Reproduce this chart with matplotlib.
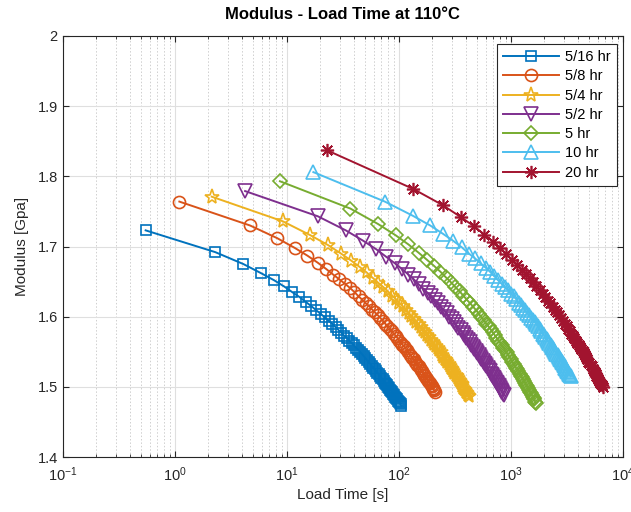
import numpy as np
import matplotlib.pyplot as plt
from matplotlib.ticker import LogLocator, NullFormatter, FixedLocator, FixedFormatter

plt.rcParams['font.family'] = ['Liberation Sans', 'DejaVu Sans']
plt.rcParams['mathtext.default'] = 'regular'

labels = ['5/16 hr', '5/8 hr', '5/4 hr', '5/2 hr', '5 hr', '10 hr', '20 hr']

# load time [s] and modulus [GPa] per aging time
t_516 = [0.55, 2.3, 4.1, 5.9, 7.7, 9.5, 11.2, 13.0, 14.8, 16.6,
         18.4, 20.1, 21.9, 23.7, 25.5, 27.3, 29.0, 30.8, 32.6, 34.4,
         36.2, 37.9, 39.7, 41.5, 43.3, 45.1, 46.8, 48.6, 50.4, 52.2,
         54.0, 55.7, 57.5, 59.3, 61.1, 62.9, 64.6, 66.4, 68.2, 70.0,
         71.8, 73.5, 75.3, 77.1, 78.9, 80.7, 82.4, 84.2, 86.0, 87.8,
         89.6, 91.3, 93.1, 94.9, 96.7, 98.5, 100.2, 102.0, 103.8, 105.6]
E_516 = [1.723, 1.692, 1.675, 1.662, 1.652, 1.643, 1.635, 1.628, 1.621, 1.615,
         1.609, 1.604, 1.599, 1.594, 1.590, 1.585, 1.581, 1.577, 1.573, 1.570,
         1.566, 1.563, 1.559, 1.556, 1.553, 1.550, 1.547, 1.544, 1.541, 1.538,
         1.535, 1.533, 1.530, 1.527, 1.525, 1.522, 1.520, 1.518, 1.515, 1.513,
         1.511, 1.508, 1.506, 1.504, 1.502, 1.500, 1.498, 1.496, 1.494, 1.492,
         1.490, 1.488, 1.486, 1.484, 1.482, 1.480, 1.478, 1.477, 1.475, 1.473]

t_58 = [1.1, 4.7, 8.2, 11.8, 15.3, 18.9, 22.5, 26.0, 29.6, 33.1,
        36.7, 40.3, 43.8, 47.4, 50.9, 54.5, 58.1, 61.6, 65.2, 68.7,
        72.3, 75.9, 79.4, 83.0, 86.5, 90.1, 93.7, 97.2, 100.8, 104.3,
        107.9, 111.5, 115.0, 118.6, 122.1, 125.7, 129.3, 132.8, 136.4, 139.9,
        143.5, 147.1, 150.6, 154.2, 157.7, 161.3, 164.9, 168.4, 172.0, 175.5,
        179.1, 182.7, 186.2, 189.8, 193.3, 196.9, 200.5, 204.0, 207.6, 211.1]
E_58 = [1.764, 1.730, 1.712, 1.698, 1.687, 1.677, 1.668, 1.660, 1.653, 1.647,
        1.641, 1.635, 1.629, 1.624, 1.619, 1.615, 1.610, 1.606, 1.602, 1.598,
        1.594, 1.590, 1.586, 1.583, 1.579, 1.576, 1.573, 1.570, 1.566, 1.563,
        1.560, 1.558, 1.555, 1.552, 1.549, 1.546, 1.544, 1.541, 1.539, 1.536,
        1.534, 1.531, 1.529, 1.527, 1.524, 1.522, 1.520, 1.517, 1.515, 1.513,
        1.511, 1.509, 1.507, 1.505, 1.503, 1.501, 1.499, 1.497, 1.495, 1.493]

t_54 = [2.14, 9.2, 16.3, 23.4, 30.5, 37.6, 44.7, 51.8, 58.9, 66.0,
        73.1, 80.2, 87.3, 94.4, 101.5, 108.6, 115.7, 122.8, 129.9, 137.0,
        144.1, 151.2, 158.3, 165.4, 172.5, 179.6, 186.7, 193.8, 200.9, 208.0,
        215.1, 222.2, 229.3, 236.4, 243.5, 250.6, 257.7, 264.8, 271.9, 279.0,
        286.1, 293.2, 300.3, 307.4, 314.5, 321.6, 328.7, 335.8, 342.9, 350.0,
        357.1, 364.2, 371.3, 378.4, 385.5, 392.6, 399.7, 406.8, 413.9, 421.0]
E_54 = [1.771, 1.736, 1.716, 1.702, 1.690, 1.680, 1.671, 1.663, 1.655, 1.648,
        1.642, 1.636, 1.630, 1.625, 1.619, 1.615, 1.610, 1.605, 1.601, 1.597,
        1.593, 1.589, 1.585, 1.581, 1.578, 1.574, 1.571, 1.567, 1.564, 1.561,
        1.558, 1.555, 1.552, 1.549, 1.546, 1.543, 1.540, 1.538, 1.535, 1.532,
        1.530, 1.527, 1.525, 1.522, 1.520, 1.517, 1.515, 1.513, 1.510, 1.508,
        1.506, 1.504, 1.501, 1.499, 1.497, 1.495, 1.493, 1.491, 1.489, 1.487]

t_52 = [4.25, 19.0, 33.7, 48.4, 63.1, 77.8, 92.5, 107, 122, 137,
        151, 166, 181, 195, 210, 225, 239, 254, 269, 284,
        298, 313, 328, 342, 357, 372, 386, 401, 416, 431,
        445, 460, 475, 489, 504, 519, 533, 548, 563, 578,
        592, 607, 622, 636, 651, 666, 680, 695, 710, 725,
        739, 754, 769, 783, 798, 813, 827, 842, 857, 872]
E_52 = [1.779, 1.743, 1.723, 1.708, 1.696, 1.685, 1.676, 1.668, 1.660, 1.653,
        1.646, 1.640, 1.634, 1.629, 1.624, 1.619, 1.614, 1.609, 1.605, 1.600,
        1.596, 1.592, 1.588, 1.584, 1.581, 1.577, 1.574, 1.570, 1.567, 1.564,
        1.560, 1.557, 1.554, 1.551, 1.548, 1.545, 1.543, 1.540, 1.537, 1.534,
        1.532, 1.529, 1.527, 1.524, 1.522, 1.519, 1.517, 1.514, 1.512, 1.510,
        1.507, 1.505, 1.503, 1.501, 1.499, 1.496, 1.494, 1.492, 1.490, 1.488]

t_5 = [8.7, 37.1, 65.5, 93.9, 122, 151, 179, 208, 236, 264,
       293, 321, 350, 378, 406, 435, 463, 492, 520, 548,
       577, 605, 634, 662, 690, 719, 747, 776, 804, 832,
       861, 889, 918, 946, 974, 1003, 1031, 1060, 1088, 1116,
       1145, 1173, 1202, 1230, 1258, 1287, 1315, 1344, 1372, 1400,
       1429, 1457, 1486, 1514, 1542, 1571, 1599, 1628, 1656, 1684]
E_5 = [1.793, 1.754, 1.732, 1.716, 1.703, 1.691, 1.681, 1.672, 1.664, 1.656,
       1.649, 1.642, 1.636, 1.630, 1.624, 1.619, 1.614, 1.609, 1.604, 1.599,
       1.595, 1.590, 1.586, 1.582, 1.578, 1.574, 1.570, 1.566, 1.563, 1.559,
       1.556, 1.552, 1.549, 1.546, 1.543, 1.539, 1.536, 1.533, 1.530, 1.527,
       1.525, 1.522, 1.519, 1.516, 1.514, 1.511, 1.508, 1.506, 1.503, 1.501,
       1.498, 1.496, 1.493, 1.491, 1.489, 1.486, 1.484, 1.482, 1.479, 1.477]

t_10 = [17.3, 75.2, 133, 191, 249, 307, 365, 423, 481, 538,
        596, 654, 712, 770, 828, 886, 944, 1002, 1060, 1117,
        1175, 1233, 1291, 1349, 1407, 1465, 1523, 1581, 1639, 1696,
        1754, 1812, 1870, 1928, 1986, 2044, 2102, 2160, 2218, 2275,
        2333, 2391, 2449, 2507, 2565, 2623, 2681, 2739, 2797, 2854,
        2912, 2970, 3028, 3086, 3144, 3202, 3260, 3318, 3376, 3433]
E_10 = [1.806, 1.764, 1.744, 1.730, 1.718, 1.708, 1.699, 1.690, 1.683, 1.676,
        1.670, 1.664, 1.658, 1.652, 1.647, 1.642, 1.638, 1.633, 1.629, 1.625,
        1.620, 1.617, 1.613, 1.609, 1.605, 1.602, 1.598, 1.595, 1.592, 1.589,
        1.586, 1.582, 1.579, 1.576, 1.574, 1.571, 1.568, 1.565, 1.563, 1.560,
        1.557, 1.555, 1.552, 1.550, 1.547, 1.545, 1.543, 1.540, 1.538, 1.536,
        1.534, 1.531, 1.529, 1.527, 1.525, 1.523, 1.521, 1.519, 1.517, 1.515]

t_20 = [23, 135, 247, 358, 470, 582, 694, 806, 917, 1029,
        1141, 1253, 1365, 1476, 1588, 1700, 1812, 1924, 2035, 2147,
        2259, 2371, 2483, 2594, 2706, 2818, 2930, 3042, 3153, 3265,
        3377, 3489, 3601, 3712, 3824, 3936, 4048, 4160, 4271, 4383,
        4495, 4607, 4719, 4830, 4942, 5054, 5166, 5278, 5389, 5501,
        5613, 5725, 5837, 5948, 6060, 6172, 6284, 6396, 6507, 6619]
E_20 = [1.837, 1.782, 1.759, 1.742, 1.729, 1.717, 1.707, 1.698, 1.689, 1.681,
        1.674, 1.667, 1.661, 1.655, 1.649, 1.643, 1.638, 1.633, 1.628, 1.623,
        1.619, 1.614, 1.610, 1.606, 1.602, 1.598, 1.594, 1.590, 1.586, 1.583,
        1.579, 1.576, 1.572, 1.569, 1.566, 1.563, 1.560, 1.557, 1.554, 1.551,
        1.548, 1.545, 1.542, 1.539, 1.536, 1.534, 1.531, 1.529, 1.526, 1.523,
        1.521, 1.518, 1.516, 1.514, 1.511, 1.509, 1.506, 1.504, 1.502, 1.500]

times = [t_516, t_58, t_54, t_52, t_5, t_10, t_20]
moduli = [E_516, E_58, E_54, E_52, E_5, E_10, E_20]

colors = ['#0072BD', '#D95319', '#EDB120', '#7E2F8E', '#77AC30', '#4DBEEE', '#A2142F']
markers = ['s', 'o', '*', 'v', 'D', '^', (8, 2, 0)]
msizes = [6.8, 8.7, 11, 9.5, 7, 10, 9.5]

fig = plt.figure(figsize=(6.31, 5.12), dpi=100)
ax = fig.add_axes([0.0994, 0.1074, 0.8874, 0.8223])
ax.set_axisbelow(True)

for t, E, lab, col, mk, ms in zip(times, moduli, labels, colors, markers, msizes):
    ax.plot(t, E, color=col, marker=mk, ms=ms, mfc='none', mec=col, mew=1.2,
            lw=1.4, label=lab)

ax.set_xscale('log')
ax.set_xlim(0.1, 1e4)
ax.set_ylim(1.4, 2.0)
ax.xaxis.set_major_locator(LogLocator(base=10, numticks=10))
ax.xaxis.set_minor_locator(LogLocator(base=10, subs=np.arange(2, 10), numticks=20))
ax.xaxis.set_minor_formatter(NullFormatter())
yt = [1.4, 1.5, 1.6, 1.7, 1.8, 1.9, 2.0]
ax.yaxis.set_major_locator(FixedLocator(yt))
ax.yaxis.set_major_formatter(FixedFormatter(['1.4', '1.5', '1.6', '1.7', '1.8', '1.9', '2']))

ax.grid(True, which='major', color='#dfdfdf', lw=0.8, ls='-')
ax.grid(True, which='minor', axis='x', color='#cfcfcf', lw=0.7, ls=(0, (1.5, 2)))

ink = '#262626'
for s in ax.spines.values():
    s.set_color(ink); s.set_linewidth(0.8)
ax.tick_params(which='both', direction='in', top=True, right=True, colors=ink, labelsize=10.5)
ax.tick_params(which='major', length=4)
ax.tick_params(which='minor', length=2.5)
ax.tick_params(axis='x', pad=6)

ax.set_xlabel('Load Time [s]', fontsize=11, color=ink, labelpad=3)
ax.set_ylabel('Modulus [Gpa]', fontsize=11, color=ink, labelpad=6)
ax.set_title('Modulus - Load Time at 110°C', fontsize=12, fontweight='bold', color='black', pad=12)

leg = ax.legend(loc='upper right', bbox_to_anchor=(0.99, 0.981), borderaxespad=0,
                fontsize=10.5, fancybox=False, framealpha=1, edgecolor=ink,
                handlelength=3.8, labelspacing=0.36, handletextpad=0.45, borderpad=0.42)
leg.get_frame().set_linewidth(0.8)

plt.savefig('out.png', dpi=100)
plt.close()
